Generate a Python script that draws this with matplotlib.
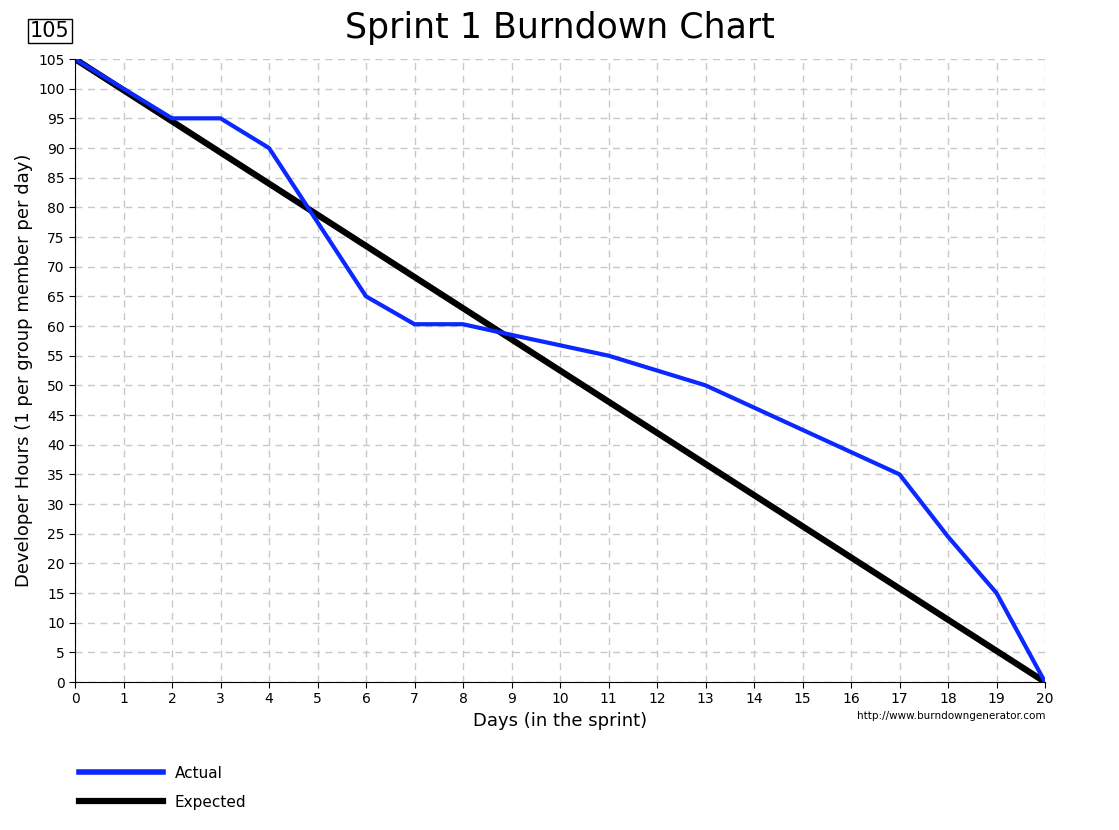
import matplotlib.pyplot as plt
from matplotlib.lines import Line2D

days_actual = [0, 1, 2, 3, 4, 6, 7, 8, 9, 11, 13, 17, 18, 19, 20]
hours_actual = [105, 100, 95, 95, 90, 65, 60.3, 60.3, 58.5, 55, 50, 35, 24.5, 15, 0]
days_expected = [0, 20]
hours_expected = [105, 0]

fig = plt.figure(figsize=(11.19, 8.3), dpi=100)
ax = fig.add_axes([75 / 1119, 1 - 682 / 830, 970 / 1119, 623 / 830])

ax.plot(days_expected, hours_expected, color='black', lw=4.5, solid_capstyle='butt')
ax.plot(days_actual, hours_actual, color='#0a28ff', lw=3)

ax.set_xlim(0, 20)
ax.set_ylim(0, 105)
ax.set_xticks(range(0, 21))
ax.set_yticks(range(0, 106, 5))
ax.tick_params(labelsize=10, length=4)
ax.grid(True, color='#c8c8c8', ls=(0, (5, 4)), lw=1)
for s in ['top', 'right']:
    ax.spines[s].set_visible(False)
ax.set_xlabel('Days (in the sprint)', fontsize=13)
ax.set_ylabel('Developer Hours (1 per group member per day)', fontsize=13)

fig.text(0.5, 1 - 28 / 830, 'Sprint 1 Burndown Chart', fontsize=25, ha='center', va='center')
fig.text(50 / 1119, 1 - 31 / 830, '105', fontsize=15, ha='center', va='center',
         bbox=dict(boxstyle='square,pad=0.1', fc='white', ec='black', lw=1))
fig.text(1045 / 1119, 1 - 716 / 830, 'http://www.burndowngenerator.com', fontsize=7.5,
         ha='right', va='center')

handles = [Line2D([], [], color='#0a28ff', lw=4), Line2D([], [], color='black', lw=4.5)]
fig.legend(handles, ['Actual', 'Expected'], loc='upper left',
           bbox_to_anchor=(65 / 1119, 1 - 752 / 830), frameon=False,
           handlelength=5.5, fontsize=11, labelspacing=0.9)

fig.savefig('out.png', dpi=100)
